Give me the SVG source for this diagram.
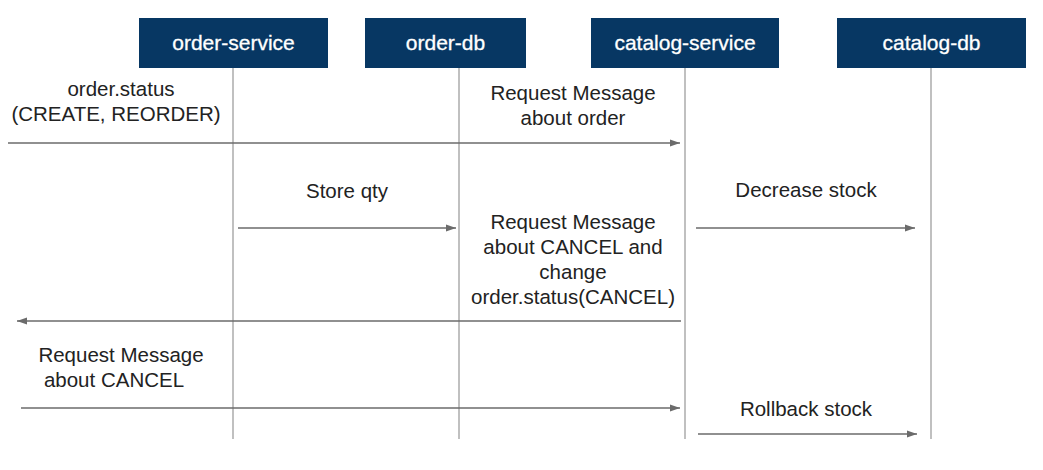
<svg xmlns="http://www.w3.org/2000/svg" width="1043" height="470" viewBox="0 0 1043 470">
<style>
.box{fill:#073763;}
.title{font-family:"Liberation Sans",Arial,sans-serif;font-size:21px;fill:#ffffff;text-anchor:middle;stroke:#ffffff;stroke-width:0.3;}
.life{stroke:#9e9e9e;stroke-width:1.3;fill:none;}
.msg{stroke:#6b6b6b;stroke-width:1.3;fill:none;marker-end:url(#ah);}
.lbl{font-family:"Liberation Sans",Arial,sans-serif;font-size:20.5px;fill:#222222;text-anchor:middle;}
</style>
<defs>
<marker id="ah" viewBox="0 0 10 10" refX="10" refY="5" markerWidth="10" markerHeight="10" markerUnits="userSpaceOnUse" orient="auto">
<path d="M0,1.5 L10,5 L0,8.5 Z" fill="#6b6b6b"/>
</marker>
</defs>
<rect width="1043" height="470" fill="#ffffff"/>
<g id="lifelines">
<line class="life" x1="233" y1="68" x2="233" y2="439"/>
<line class="life" x1="459" y1="68" x2="459" y2="439"/>
<line class="life" x1="685" y1="68" x2="685" y2="439"/>
<line class="life" x1="931" y1="68" x2="931" y2="439"/>
</g>
<g id="order-service"><rect class="box" x="139" y="18" width="189" height="50"/><text class="title" x="233.5" y="50">order-service</text></g>
<g id="order-db"><rect class="box" x="365" y="18" width="161" height="50"/><text class="title" x="445.5" y="50">order-db</text></g>
<g id="catalog-service"><rect class="box" x="591" y="18" width="188" height="50"/><text class="title" x="685" y="50">catalog-service</text></g>
<g id="catalog-db"><rect class="box" x="837" y="18" width="189" height="50"/><text class="title" x="931.5" y="50">catalog-db</text></g>
<g id="connectors">
<line class="msg" x1="8" y1="143" x2="680" y2="143"/>
<line class="msg" x1="238" y1="228" x2="456" y2="228"/>
<line class="msg" x1="696" y1="228" x2="915" y2="228"/>
<line class="msg" x1="681" y1="321" x2="17" y2="321"/>
<line class="msg" x1="21" y1="408" x2="680" y2="408"/>
<line class="msg" x1="698" y1="434" x2="917" y2="434"/>
</g>
<g id="labels">
<text class="lbl" x="121" y="96">order.status</text>
<text class="lbl" x="116" y="121">(CREATE, REORDER)</text>
<text class="lbl" x="573" y="100">Request Message</text>
<text class="lbl" x="573" y="125">about order</text>
<text class="lbl" x="347" y="198">Store qty</text>
<text class="lbl" x="573" y="229">Request Message</text>
<text class="lbl" x="573" y="254">about CANCEL and</text>
<text class="lbl" x="573" y="279">change</text>
<text class="lbl" x="573" y="304">order.status(CANCEL)</text>
<text class="lbl" x="806" y="197">Decrease stock</text>
<text class="lbl" x="121" y="362">Request Message</text>
<text class="lbl" x="114" y="387">about CANCEL</text>
<text class="lbl" x="806" y="416">Rollback stock</text>
</g>
</svg>
